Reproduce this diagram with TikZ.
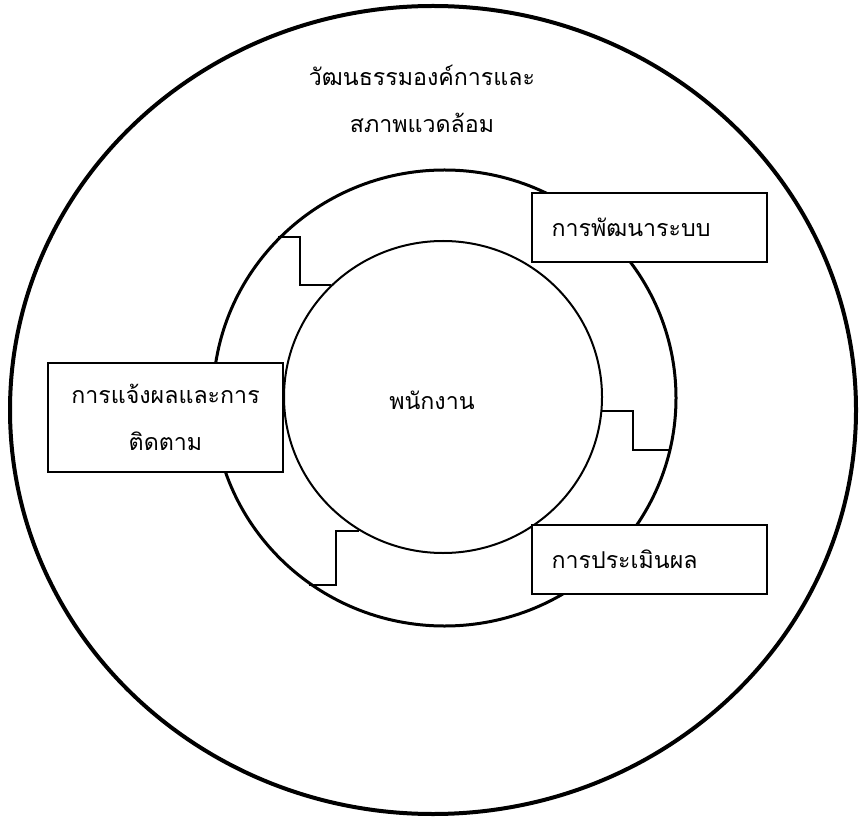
\documentclass[tikz,border=0pt]{standalone}
\usepackage{fontspec}
\newfontfamily\thaifont[Script=Thai]{Loma}
\usetikzlibrary{shapes.geometric}

\begin{document}
\begin{tikzpicture}[x=0.5pt, y=-0.5pt,
  % styles for the rings, the boxes and the steps
  ring/.style={ellipse, draw, inner sep=0pt},
  stagebox/.style={rectangle, draw, line width=1pt, fill=white, inner xsep=10pt, inner ysep=0pt, text width=97.5pt, minimum height=34.5pt},
  stepline/.style={draw, line width=1pt},
  every node/.append style={font={\thaifont\fontsize{11.6}{23.5}\selectfont}}
  ]
  \useasboundingbox (0,0) rectangle (860,817);

  % rings
  \node[ring, line width=2pt, minimum width=423pt, minimum height=404pt] (outer) at (433,410) {};
  \node[ring, line width=1.5pt, minimum width=231.5pt, minimum height=228pt] (middle) at (444.5,398) {};
  \node[ring, line width=1pt, minimum width=159pt, minimum height=156pt] (inner) at (443,397) {};

  % labels
  \node[align=center] (culture) at (422,99) {วัฒนธรรมองค์การและ\\สภาพแวดล้อม};
  \node (staff) at (432,400) {พนักงาน};

  % steps between the rings
  \draw[stepline] (middle.136) -- ++(22,0) |- (inner.135);
  \draw[stepline] (inner.-5) -- ++(31,0) |- (middle.-13);
  \draw[stepline] (inner.238) -- ++(-23,0) |- (middle.234);

  % boxes
  \node[stagebox, align=left] (develop) at (649,227.5) {การพัฒนาระบบ};
  \node[stagebox, align=left] (assess) at (649,559) {การประเมินผล};
  \node[stagebox, align=center, minimum height=54.5pt] (feedback) at (165.5,417.5) {การแจ้งผลและการ\\ติดตาม};

\end{tikzpicture}
\end{document}
